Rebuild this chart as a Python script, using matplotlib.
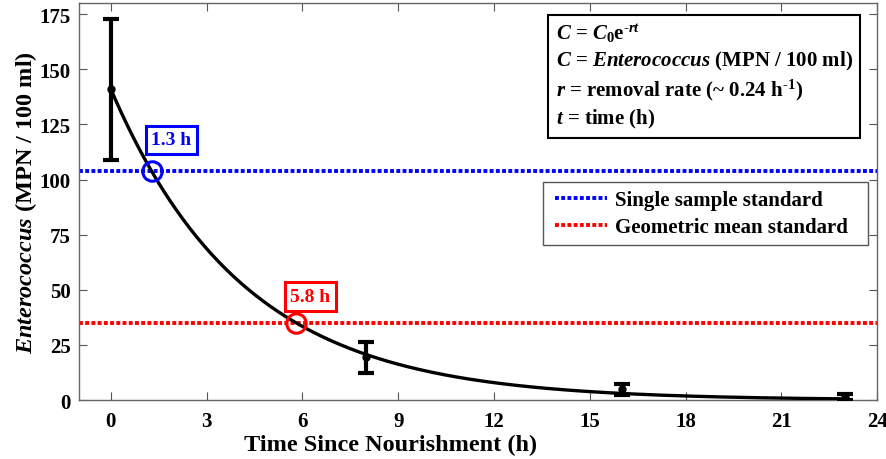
import numpy as np
import matplotlib
matplotlib.use("Agg")
import matplotlib.pyplot as plt
from matplotlib.patches import Rectangle

plt.rcParams['font.family'] = ['Liberation Serif', 'DejaVu Serif']
plt.rcParams['mathtext.fontset'] = 'custom'
plt.rcParams['mathtext.rm'] = 'Liberation Serif:bold'
plt.rcParams['mathtext.it'] = 'Liberation Serif:bold:italic'
plt.rcParams['mathtext.bf'] = 'Liberation Serif:bold'

# data
time_h = [0, 8, 16, 23]
entero = [141, 19.5, 5, 1.5]
err_low = [109, 12.5, 2.5, 0.2]
err_high = [173, 26.5, 7.5, 3]
C0 = 141.0
r_rate = 0.24
single_std = 104
geo_std = 35
cross_single = 1.3
cross_geo = 5.8
xticks = [0, 3, 6, 9, 12, 15, 18, 21, 24]
yticks = [0, 25, 50, 75, 100, 125, 150, 175]

fig = plt.figure(figsize=(8.87, 4.6), dpi=100)
ax = fig.add_axes([0.089, 0.128, 0.900, 0.863])

t = np.linspace(0, 23, 300)
ax.plot(t, C0 * np.exp(-r_rate * t), color='black', lw=2.4, zorder=3)

yerr = [np.array(entero) - np.array(err_low), np.array(err_high) - np.array(entero)]
ax.errorbar(time_h, entero, yerr=yerr, fmt='o', color='black', ms=5,
            elinewidth=3, capsize=5.5, capthick=3, zorder=4)

l1, = ax.plot([-1, 24], [single_std, single_std], color='#0000FF', lw=2.8,
              ls=(0, (1, 0.6)), label='Single sample standard', zorder=2)
l2, = ax.plot([-1, 24], [geo_std, geo_std], color='#FF0000', lw=2.8,
              ls=(0, (1, 0.6)), label='Geometric mean standard', zorder=2)

ax.plot([cross_single], [single_std], 'o', mfc='none', mec='#0000FF', ms=14, mew=2.2, zorder=5)
ax.plot([cross_geo], [geo_std], 'o', mfc='none', mec='#FF0000', ms=14, mew=2.2, zorder=5)

ax.text(1.9, 118, f'{cross_single} h', color='#0000FF',
        fontsize=14, fontweight='bold', ha='center', va='center',
        bbox=dict(boxstyle='square,pad=0.3', fc='white', ec='#0000FF', lw=2.2))
ax.text(6.25, 47, f'{cross_geo} h', color='#FF0000',
        fontsize=14, fontweight='bold', ha='center', va='center',
        bbox=dict(boxstyle='square,pad=0.3', fc='white', ec='#FF0000', lw=2.2))

ax.set_xlim(-1, 24)
ax.set_ylim(0, 180)
ax.set_xticks(xticks)
ax.set_yticks(yticks)
ax.tick_params(axis='both', labelsize=15, direction='in', length=6, color='#555555',
               top=True, right=True)
for lab in ax.get_xticklabels() + ax.get_yticklabels():
    lab.set_fontweight('bold')
ax.tick_params(axis='x', pad=8)
ax.tick_params(axis='y', pad=6)
for s in ax.spines.values():
    s.set_color('#666666')
    s.set_linewidth(1)

ax.set_xlabel('Time Since Nourishment (h)', fontsize=17.5, fontweight='bold')
ax.xaxis.set_label_coords(0.39, -0.085)
ax.set_ylabel(r'$\mathit{Enterococcus}$ (MPN / 100 ml)', fontsize=17.5, fontweight='bold')
ax.yaxis.set_label_coords(-0.050, 0.5)

# legend frame drawn separately (MATLAB-style wide box)
ax.add_patch(Rectangle((0.5815, 0.390), 0.4072, 0.159, transform=ax.transAxes,
                       fc='white', ec='#555555', lw=1, zorder=6))
leg = ax.legend(handles=[l1, l2], loc='upper left', bbox_to_anchor=(0.5965, 0.529),
                prop={'weight': 'bold', 'size': 15}, frameon=False,
                handlelength=2.5, borderpad=0, labelspacing=0.35, handletextpad=0.35,
                borderaxespad=0)
leg.set_zorder(7)

txt = (r'$C$ = $C_{\mathit{0}}$e$^{\text{-}rt}$' + '\n'
       r'$C$ = $\mathit{Enterococcus}$ (MPN / 100 ml)' + '\n'
       r'$r$ = removal rate (~ 0.24 h$^{\text{-}1}$)' + '\n'
       r'$t$ = time (h)')
ax.text(0.597, 0.955, txt, transform=ax.transAxes, fontsize=15, fontweight='bold',
        ha='left', va='top', linespacing=1.3,
        bbox=dict(boxstyle='square,pad=0.35', fc='white', ec='black', lw=1.5))

fig.savefig('out.png', dpi=100)
